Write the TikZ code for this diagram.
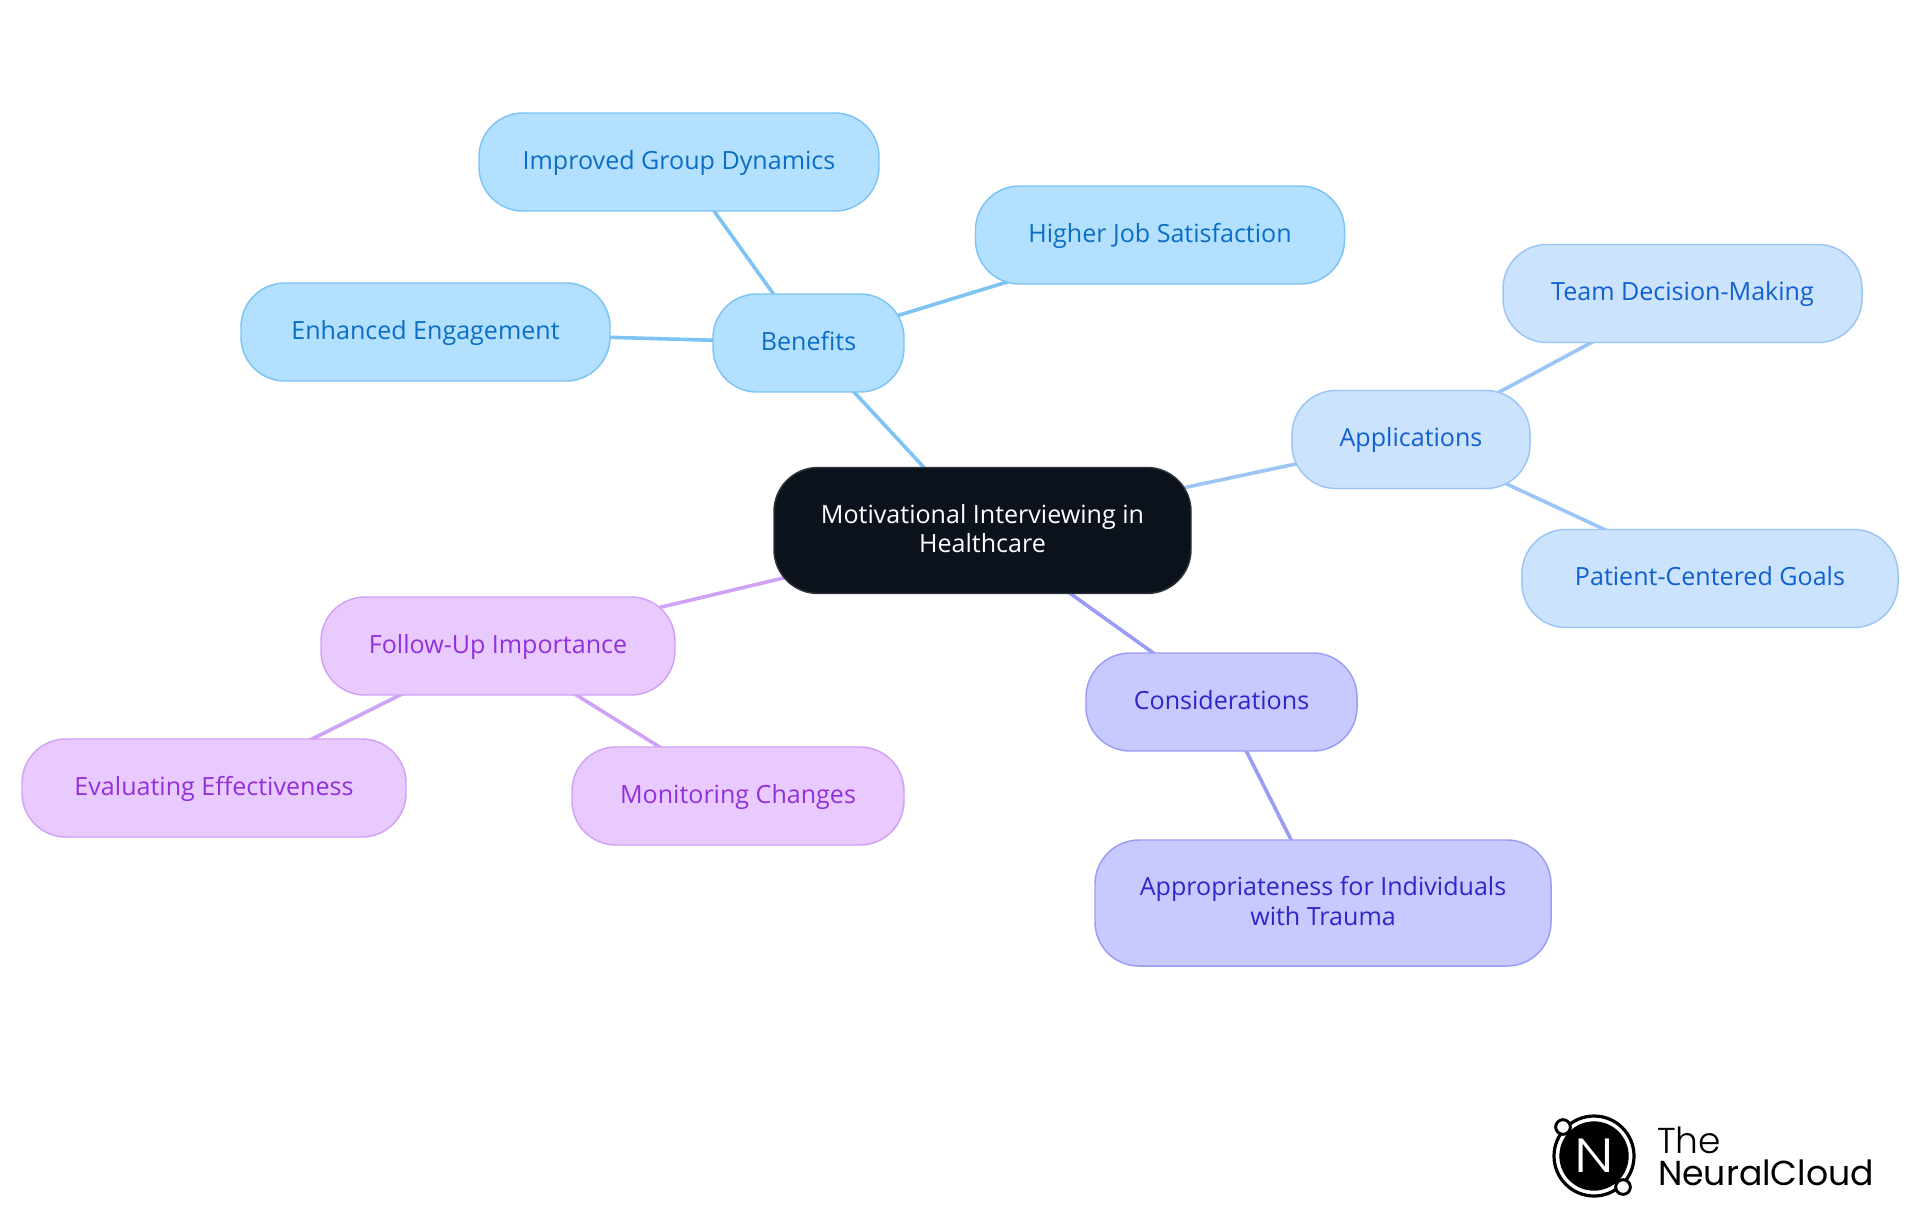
\documentclass[tikz,border=0pt]{standalone}
\usepackage{fontspec}
\setmainfont{Open Sans}
\newfontfamily\logofont{Poppins Light}
\newfontfamily\logobold{Poppins}
\usetikzlibrary{backgrounds}
\definecolor{rootfill}{HTML}{0C121C}
\definecolor{rootline}{HTML}{2F333A}
\definecolor{benfill}{HTML}{B3E0FF}
\definecolor{benline}{HTML}{7DC4F5}
\definecolor{bentext}{HTML}{0A6EC4}
\definecolor{appfill}{HTML}{CCE3FD}
\definecolor{appline}{HTML}{9AC5F4}
\definecolor{apptext}{HTML}{1060D0}
\definecolor{consfill}{HTML}{C8CAFF}
\definecolor{consline}{HTML}{9A9CF5}
\definecolor{constext}{HTML}{3025C8}
\definecolor{follfill}{HTML}{E8CAFF}
\definecolor{follline}{HTML}{D0A2F5}
\definecolor{folltext}{HTML}{9230DC}
\tikzset{
  x=0.75pt,y=-0.75pt,
  mapnode/.style={draw,line width=1.1pt,rounded corners=33pt,inner sep=0pt,outer sep=0pt,align=center,
    minimum height=73.5pt,text height=16pt,text depth=4.8pt,
    font=\fontsize{18.8pt}{22pt}\selectfont},
  twolines/.style={text height=38pt,minimum height=94.5pt},
  rootnode/.style={mapnode,twolines,fill=rootfill,draw=rootline,text=white},
  bennode/.style={mapnode,fill=benfill,draw=benline,text=bentext},
  appnode/.style={mapnode,fill=appfill,draw=appline,text=apptext},
  consnode/.style={mapnode,fill=consfill,draw=consline,text=constext},
  follnode/.style={mapnode,fill=follfill,draw=follline,text=folltext},
  link/.style={line width=2.7pt},
  logotext/.style={inner sep=0pt,outer sep=0pt,anchor=base west,text=black},
}
\begin{document}
\begin{tikzpicture}
\path[use as bounding box] (0,0) rectangle (1920,1215);
\node[rootnode,minimum width=312.75pt] (root) at (982.5,530.5) {Motivational Interviewing in\\Healthcare};
\node[bennode,minimum width=143.25pt] (ben) at (808.5,343) {Benefits};
\node[bennode,minimum width=276.75pt] (enh) at (425.5,332) {Enhanced Engagement};
\node[bennode,minimum width=300pt] (imp) at (679,162) {Improved Group Dynamics};
\node[bennode,minimum width=276.75pt] (hig) at (1160,235) {Higher Job Satisfaction};
\node[appnode,minimum width=178.5pt] (app) at (1411,439.5) {Applications};
\node[appnode,minimum width=269.25pt] (team) at (1682.5,293.5) {Team Decision-Making};
\node[appnode,minimum width=282pt] (pat) at (1710,578.5) {Patient-Centered Goals};
\node[consnode,minimum width=203.25pt] (con) at (1221.5,702) {Considerations};
\node[consnode,twolines,minimum width=342pt] (tra) at (1323,903) {Appropriateness for Individuals\\with Trauma};
\node[follnode,minimum width=265.5pt] (fol) at (498,646) {Follow-Up Importance};
\node[follnode,minimum width=288pt] (eva) at (214,788) {Evaluating Effectiveness};
\node[follnode,minimum width=249pt] (mon) at (738,796) {Monitoring Changes};
% logo
\node[circle,draw=black,line width=2.4pt,fill=white,minimum size=60pt,inner sep=0pt,outer sep=0pt] (ring) at (1594,1156) {};
\node[circle,fill=black,minimum size=52pt,inner sep=0pt,outer sep=0pt,text=white,font=\logofont\fontsize{36pt}{36pt}\selectfont] (disc) at (1594,1156) {\scalebox{1.2}[1]{N}};
\node[circle,draw=black,line width=2.2pt,fill=white,minimum size=11pt,inner sep=0pt] (dota) at (1563,1127) {};
\node[circle,draw=black,line width=2.2pt,fill=white,minimum size=11pt,inner sep=0pt] (dotb) at (1623,1187) {};
\node[logotext,font=\logofont\fontsize{27pt}{28pt}\selectfont] (the) at (1657,1153) {The};
\node[logotext,font=\logobold\fontsize{26pt}{28pt}\selectfont] (ncl) at (1658,1185) {NeuralCloud};
\begin{scope}[on background layer]
\fill[white] (0,0) rectangle (1920,1215);
\draw[link,benline] (root.center) -- (ben.center);
\draw[link,benline] (ben.center) -- (enh.center);
\draw[link,benline] (ben.center) -- (imp.center);
\draw[link,benline] (ben.center) -- (hig.center);
\draw[link,appline] (root.center) -- (app.center);
\draw[link,appline] (app.center) -- (team.center);
\draw[link,appline] (app.center) -- (pat.center);
\draw[link,consline] (root.center) -- (con.center);
\draw[link,consline] (con.center) -- (tra.center);
\draw[link,follline] (root.center) -- (fol.center);
\draw[link,follline] (fol.center) -- (eva.center);
\draw[link,follline] (fol.center) -- (mon.center);
\end{scope}
\end{tikzpicture}
\end{document}
